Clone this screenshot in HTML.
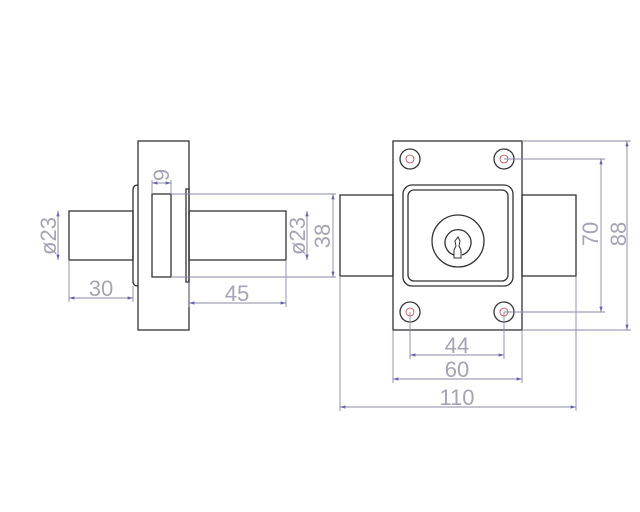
<!DOCTYPE html>
<html><head><style>body{margin:0;background:#fff}svg{display:block}text{font-family:"Liberation Sans",sans-serif;fill:#a4a4b4;font-size:22px}</style></head><body>
<svg width="640" height="512" viewBox="0 0 640 512" xmlns="http://www.w3.org/2000/svg">
<defs><marker id="a" viewBox="0 0 10 6" refX="10" refY="3" markerWidth="6" markerHeight="4" orient="auto-start-reverse"><path d="M0 0L10 3L0 6z" fill="#6666aa"/></marker></defs>
<g fill="none" stroke="#333" stroke-width="1.3">
<rect x="138" y="141" width="51" height="189"/>
<rect x="69" y="211" width="64" height="49"/>
<path d="M138 185 Q133 185 133 190 L133 281 Q133 286 138 286"/>
<rect x="152" y="194" width="19" height="83"/>
<rect x="186" y="189" width="3" height="93"/>
<rect x="189" y="211" width="97" height="49"/>
<rect x="393" y="141" width="129" height="189"/>
<rect x="340" y="195" width="53" height="81"/>
<rect x="522" y="195" width="54" height="81"/>
<rect x="403" y="185" width="110" height="101" rx="9"/>
<rect x="408" y="190" width="100" height="91" rx="6"/>
<circle cx="458" cy="241" r="26"/>
<path d="M454 255 A13 13 0 1 1 462 255"/>
<path d="M454 258 L454 250 L456 246 L455 241 L458 237 L460 241 L459 246 L461 250 L461 258 Z" stroke-width="1"/>
<circle cx="410" cy="159" r="10"/><circle cx="504" cy="159" r="10"/>
<circle cx="410" cy="312" r="10"/><circle cx="504" cy="312" r="10"/>
</g>
<g fill="none" stroke="#c04050" stroke-width="0.8">
<circle cx="410" cy="159" r="4"/><circle cx="504" cy="159" r="4"/>
<circle cx="410" cy="312" r="4"/><circle cx="504" cy="312" r="4"/>
</g>
<g stroke="#8a8aa6" stroke-width="0.9" fill="none">
<path d="M171 194H336M171 277H336M152 180V194M171 180V194M69 260V302M133 286V302M189 282V307M286 260V307M58 211V260M307 211V260"/>
<path d="M522 141H631M504 159H605M504 312H605M522 330H631M410 312V359M504 312V359M393 330V383M522 330V383M340 276V411M576 276V411"/>
<line x1="333" y1="194" x2="333" y2="277" marker-start="url(#a)" marker-end="url(#a)"/>
<line x1="58" y1="211" x2="58" y2="260" marker-start="url(#a)" marker-end="url(#a)"/>
<line x1="307" y1="211" x2="307" y2="260" marker-start="url(#a)" marker-end="url(#a)"/>
<line x1="69" y1="298" x2="133" y2="298" marker-start="url(#a)" marker-end="url(#a)"/>
<line x1="189" y1="303" x2="286" y2="303" marker-start="url(#a)" marker-end="url(#a)"/>
<line x1="152" y1="183" x2="171" y2="183" marker-start="url(#a)" marker-end="url(#a)"/>
<line x1="601" y1="159" x2="601" y2="312" marker-start="url(#a)" marker-end="url(#a)"/>
<line x1="627" y1="141" x2="627" y2="330" marker-start="url(#a)" marker-end="url(#a)"/>
<line x1="410" y1="355" x2="504" y2="355" marker-start="url(#a)" marker-end="url(#a)"/>
<line x1="393" y1="379" x2="522" y2="379" marker-start="url(#a)" marker-end="url(#a)"/>
<line x1="340" y1="407" x2="576" y2="407" marker-start="url(#a)" marker-end="url(#a)"/>
</g>
<g text-anchor="middle">
<text x="101" y="296">30</text>
<text x="237" y="301">45</text>
<text x="457" y="353">44</text>
<text x="457" y="377">60</text>
<text x="457" y="405">110</text>
<text transform="translate(56,236) rotate(-90)">ø23</text>
<text transform="translate(305,236) rotate(-90)">ø23</text>
<text transform="translate(330,236) rotate(-90)">38</text>
<text transform="translate(169,175) rotate(-90)">9</text>
<text transform="translate(598,234) rotate(-90)">70</text>
<text transform="translate(626,234) rotate(-90)">88</text>
</g>
</svg>
</body></html>
